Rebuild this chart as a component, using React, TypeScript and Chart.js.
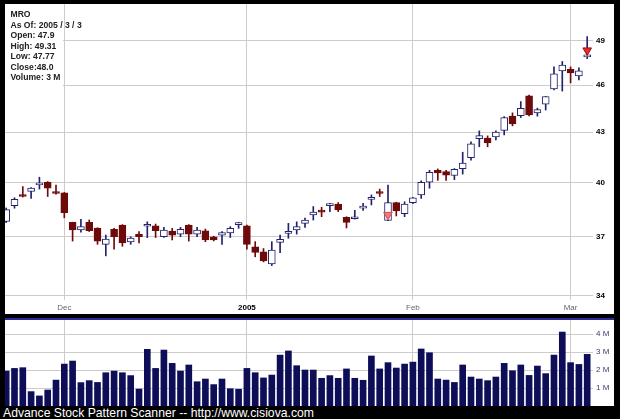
import React, { useEffect, useRef } from "react";
import { Chart, registerables } from "chart.js";
Chart.register(...registerables);

const symbol = "MRO";
const asOf = "2005 / 3 / 3";

const opens = [
  37.82, 38.69, 39.29, 39.48, 39.86, 40.01, 39.44, 39.41, 37.77, 37.36,
  37.77, 37.46, 36.6, 37.4, 37.63, 36.72, 37.13, 37.56, 37.58, 37.0,
  37.3, 37.14, 37.63, 37.14, 37.32, 37.0, 37.09, 37.2, 37.65, 37.58,
  36.47, 36.21, 35.59, 36.7, 37.18, 37.36, 37.72, 38.18, 38.37, 38.69,
  38.78, 38.05, 37.97, 38.55, 39.04, 39.47, 37.88, 38.86, 38.24, 38.86,
  39.29, 40.01, 40.7, 40.62, 40.4, 40.8, 41.44, 42.59, 42.63, 42.7,
  43.1, 44.0, 44.02, 45.29, 44.2, 44.75, 45.75, 46.94, 47.04, 46.6,
  47.9,
];
const highs = [
  38.56, 39.13, 39.76, 39.7, 40.3, 40.05, 39.85, 39.43, 37.78, 37.93,
  37.9, 37.48, 37.09, 37.45, 37.65, 37.0, 37.27, 37.8, 37.68, 37.5,
  37.45, 37.5, 37.65, 37.5, 37.41, 37.03, 37.27, 37.54, 37.78, 37.63,
  36.74, 36.38, 36.74, 37.09, 37.72, 37.8, 38.0, 38.64, 38.6, 38.82,
  38.86, 38.08, 38.43, 38.82, 39.29, 39.62, 39.85, 38.88, 38.9, 39.15,
  40.09, 40.7, 40.78, 40.7, 40.8, 41.77, 42.4, 43.07, 42.76, 43.08,
  43.96, 44.2, 44.92, 45.34, 44.5, 45.25, 47.21, 47.58, 47.21, 47.15,
  49.31,
];
const lows = [
  37.76, 38.55, 39.17, 39.09, 39.62, 39.2, 39.33, 38.02, 36.77, 37.25,
  37.28, 36.6, 36.0, 36.35, 36.5, 36.6, 36.68, 36.95, 36.96, 36.96,
  36.83, 37.0, 36.77, 37.0, 36.74, 36.78, 36.6, 36.96, 37.45, 36.35,
  35.95, 35.69, 35.5, 36.17, 36.92, 37.14, 37.5, 37.9, 38.08, 38.36,
  38.36, 37.47, 37.95, 38.43, 38.73, 39.2, 37.86, 38.12, 38.08, 38.8,
  39.09, 39.67, 40.12, 40.12, 40.16, 40.48, 41.3, 42.1, 42.1, 42.51,
  42.82, 43.38, 43.9, 44.0, 43.99, 44.38, 45.67, 45.6, 46.14, 46.33,
  47.77,
];
const closes = [
  38.47, 39.04, 39.2, 39.67, 39.9, 39.67, 39.37, 38.3, 37.36, 37.54,
  37.33, 36.77, 36.88, 37.0, 36.68, 36.93, 37.0, 37.6, 37.32, 37.36,
  37.09, 37.4, 37.14, 37.36, 36.83, 36.83, 37.22, 37.45, 37.68, 36.6,
  36.18, 35.74, 36.3, 36.86, 37.27, 37.54, 37.9, 38.33, 38.33, 38.78,
  38.45, 37.77, 38.04, 38.6, 39.08, 39.37, 38.86, 38.4, 38.78, 39.13,
  40.01, 40.59, 40.55, 40.42, 40.76, 41.12, 42.28, 42.78, 42.33, 43.0,
  43.9, 43.5, 44.49, 44.06, 44.4, 45.25, 46.74, 47.33, 46.81, 46.94,
  48.0,
];
// volume in millions of shares
const volumes = [
  1.94, 2.09, 2.13, 0.8, 0.56, 0.89, 1.44, 2.33, 2.5, 1.3,
  1.41, 1.31, 1.85, 1.94, 1.85, 1.69, 0.94, 3.15, 2.09, 3.11,
  2.37, 1.94, 2.28, 1.35, 1.5, 1.19, 1.5, 0.96, 0.93, 2.09,
  1.85, 1.56, 1.72, 2.83, 3.06, 2.24, 2.0, 2.0, 1.54, 1.69,
  1.54, 2.06, 1.54, 1.43, 2.78, 2.06, 2.41, 2.11, 2.33, 2.44,
  3.17, 2.96, 1.5, 1.44, 1.31, 2.28, 1.61, 1.5, 1.41, 1.61,
  2.37, 1.96, 2.28, 1.7, 2.22, 1.8, 2.83, 4.11, 2.41, 2.31,
  2.87,
];
const monthTickIdx = [7, 29, 49, 68];
const monthTickNames = ["Dec", "2005", "Feb", "Mar"];
const priceTicks = [34, 37, 40, 43, 46, 49];
const volumeTicks = [1, 2, 3, 4];
const markerIdx = [46, 70];
const markerPrice = [38.18, 48.34];

const UP = "#22226e";
const DOWN = "#6e0a0a";
const GRID = "#cccccc";
const X_MIN = -0.145;
const X_MAX = 70.7;
const FONT = "'Liberation Sans', Arial, sans-serif";

const last = opens.length - 1;
const infoLines = [
  symbol,
  `As Of: ${asOf}`,
  `Open: ${opens[last]}`,
  `High: ${highs[last]}`,
  `Low: ${lows[last]}`,
  `Close:${closes[last].toFixed(1)}`,
  `Volume: ${Math.round(volumes[last])} M`,
];

function noPad(s: any) {
  s.paddingTop = 0;
  s.paddingBottom = 0;
  s.paddingLeft = 0;
  s.paddingRight = 0;
}

function xScale(showLabels: boolean) {
  return {
    type: "linear" as const,
    min: X_MIN,
    max: X_MAX,
    offset: false,
    bounds: "data",
    afterBuildTicks: (s: any) => {
      s.ticks = monthTickIdx.map((v) => ({ value: v }));
    },
    afterFit: (s: any) => {
      s.height = showLabels ? 14 : 0;
      noPad(s);
    },
    grid: { color: GRID, offset: false, drawTicks: false },
    border: { display: false },
    ticks: {
      display: showLabels,
      autoSkip: false,
      maxRotation: 0,
      padding: 3,
      callback: (v: any) => {
        const k = monthTickIdx.indexOf(Number(v));
        return k >= 0 ? monthTickNames[k] : "";
      },
      color: (c: any) => (c.tick && c.tick.value === 29 ? "#000000" : "#666666"),
      font: (c: any) => ({
        family: FONT,
        size: 8,
        weight: c.tick && c.tick.value === 29 ? "bold" : "normal",
      }),
    },
  };
}

export default function App() {
  const priceRef = useRef<HTMLCanvasElement>(null);
  const volRef = useRef<HTMLCanvasElement>(null);

  useEffect(() => {
    Chart.defaults.font.family = FONT;
    const up = closes.map((c, i) => c >= opens[i]);
    const price = new Chart(priceRef.current!, {
      type: "bar",
      data: {
        datasets: [
          {
            type: "scatter",
            data: markerIdx.map((x, k) => ({ x, y: markerPrice[k] })),
            pointStyle: "triangle",
            pointRotation: 180,
            pointRadius: 5,
            pointBackgroundColor: ["#f07a7a", "#e82a2a"],
            pointBorderColor: ["#d05050", "#a01010"],
            pointBorderWidth: 1,
          } as any,
          {
            type: "bar",
            data: opens.map((o, i) => ({ x: i, y: [o, closes[i]] })),
            backgroundColor: up.map((u) => (u ? "#ffffff" : DOWN)),
            borderColor: up.map((u) => (u ? UP : DOWN)),
            borderWidth: 1,
            borderSkipped: false,
            barThickness: 7,
            grouped: false,
            minBarLength: 2,
          } as any,
          {
            type: "bar",
            data: lows.map((l, i) => ({ x: i, y: [l, highs[i]] })),
            backgroundColor: up.map((u) => (u ? UP : DOWN)),
            barThickness: 1,
            grouped: false,
          } as any,
        ],
      },
      options: {
        animation: false,
        responsive: false,
        devicePixelRatio: 1,
        layout: { padding: 0, autoPadding: false },
        plugins: { legend: { display: false }, tooltip: { enabled: false } },
        scales: {
          x: xScale(true) as any,
          y: {
            type: "logarithmic",
            position: "right",
            min: 33.79,
            max: 51.67,
            bounds: "data",
            afterBuildTicks: (s: any) => {
              s.ticks = priceTicks.map((v) => ({ value: v }));
            },
            afterFit: (s: any) => {
              s.width = 21;
              noPad(s);
            },
            grid: { color: GRID, drawTicks: false },
            border: { display: false },
            ticks: {
              padding: 3,
              color: "#000000",
              font: { family: FONT, size: 8, weight: "bold" },
              callback: (v: any) => String(v),
            },
          } as any,
        },
      },
    });

    const vol = new Chart(volRef.current!, {
      type: "bar",
      data: {
        datasets: [
          {
            data: volumes.map((v, i) => ({ x: i, y: v })),
            backgroundColor: "#0e0e58",
            barThickness: 6,
            grouped: false,
          } as any,
        ],
      },
      options: {
        animation: false,
        responsive: false,
        devicePixelRatio: 1,
        layout: { padding: 0, autoPadding: false },
        plugins: { legend: { display: false }, tooltip: { enabled: false } },
        scales: {
          x: xScale(false) as any,
          y: {
            type: "linear",
            position: "right",
            min: 0,
            max: 4.78,
            afterBuildTicks: (s: any) => {
              s.ticks = volumeTicks.map((v) => ({ value: v }));
            },
            afterFit: (s: any) => {
              s.width = 21;
              noPad(s);
            },
            grid: { color: GRID, drawTicks: false },
            border: { display: false },
            ticks: {
              padding: 3,
              color: "#3a3a70",
              font: { family: FONT, size: 8 },
              callback: (v: any) => `${v} M`,
            },
          } as any,
        },
      },
    });

    return () => {
      price.destroy();
      vol.destroy();
    };
  }, []);

  return (
    <div
      style={{
        position: "fixed",
        left: 0,
        top: 0,
        width: 620,
        height: 419,
        background: "#000000",
        overflow: "hidden",
      }}
    >
      <canvas
        ref={priceRef}
        width={609}
        height={310}
        style={{ position: "absolute", left: 5, top: 4, width: 609, height: 310, background: "#ffffff" }}
      />
      <div
        style={{
          position: "absolute",
          left: 5,
          top: 4,
          width: 58,
          height: 85,
          background: "#ffffff",
        }}
      >
        {infoLines.map((t, i) => (
          <div
            key={i}
            style={{
              position: "absolute",
              left: 5.5,
              top: 5.1 + i * 10.5,
              font: `bold 8.6px ${FONT}`,
              lineHeight: "10.5px",
              color: "#222222",
              whiteSpace: "nowrap",
            }}
          >
            {t}
          </div>
        ))}
      </div>
      <div
        style={{
          position: "absolute",
          left: 5,
          top: 318,
          width: 609,
          height: 2,
          background: "#2c2c96",
        }}
      />
      <canvas
        ref={volRef}
        width={609}
        height={86}
        style={{ position: "absolute", left: 5, top: 320, width: 609, height: 86, background: "#ffffff" }}
      />
      <div
        style={{
          position: "absolute",
          left: 3,
          top: 405.5,
          font: `12.2px ${FONT}`,
          lineHeight: "14px",
          color: "#ffffff",
          whiteSpace: "nowrap",
        }}
      >
        Advance Stock Pattern Scanner -- http://www.cisiova.com
      </div>
    </div>
  );
}
